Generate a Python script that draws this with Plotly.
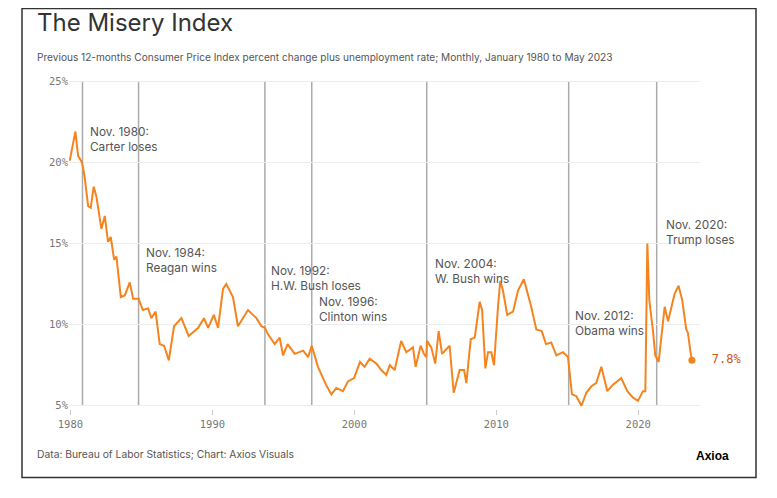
import plotly.graph_objects as go

years = [1979.95,1980.35,1980.54,1980.82,1981.0,1981.25,1981.43,1981.64,1981.83,1982.18,1982.42,1982.65,1982.84,1983.08,1983.24,1983.55,1983.83,1984.18,1984.42,1984.8,1985.1,1985.47,1985.7,1986.0,1986.29,1986.6,1986.93,1987.3,1987.82,1988.33,1989.0,1989.41,1989.7,1990.1,1990.4,1990.75,1990.98,1991.45,1991.8,1992.16,1992.51,1993.1,1993.45,1993.7,1993.92,1994.39,1994.74,1994.98,1995.3,1995.8,1996.4,1996.74,1997.0,1997.44,1998.0,1998.38,1998.73,1999.2,1999.55,1999.98,2000.4,2000.72,2001.08,2001.55,2001.9,2002.25,2002.5,2002.84,2003.3,2003.66,2004.13,2004.32,2004.67,2004.9,2005.07,2005.12,2005.42,2005.7,2005.94,2006.18,2006.41,2006.71,2007.0,2007.42,2007.73,2007.89,2008.2,2008.48,2008.83,2009.0,2009.23,2009.42,2009.65,2009.84,2010.12,2010.28,2010.47,2010.77,2011.18,2011.53,2011.94,2012.18,2012.46,2012.82,2013.2,2013.5,2013.87,2014.23,2014.7,2015.05,2015.33,2015.63,2016.0,2016.34,2016.7,2017.04,2017.4,2017.82,2018.22,2018.8,2019.23,2019.63,2019.98,2020.33,2020.5,2020.64,2020.78,2021.04,2021.2,2021.44,2021.86,2022.1,2022.32,2022.56,2022.84,2023.1,2023.38,2023.5,2023.68,2023.78]
values = [20.1,21.9,20.4,20.0,19.1,17.3,17.2,18.5,17.9,15.9,16.7,15.1,15.4,14.0,14.2,11.7,11.8,12.6,11.6,11.6,10.9,11.0,10.4,10.8,8.8,8.7,7.8,9.9,10.4,9.3,9.8,10.4,9.8,10.6,9.8,12.2,12.5,11.7,9.9,10.4,10.9,10.4,9.9,9.8,9.4,8.8,9.2,8.1,8.8,8.2,8.4,8.0,8.7,7.4,6.3,5.7,6.1,5.9,6.5,6.7,7.7,7.4,7.9,7.6,7.2,6.9,7.5,7.2,9.0,8.3,8.6,7.4,8.7,8.2,8.0,9.0,8.6,7.6,9.6,8.2,8.4,8.7,5.8,7.2,7.2,6.4,9.1,9.2,11.4,10.9,7.3,8.3,8.3,7.5,11.1,12.7,12.1,10.6,10.8,12.1,12.8,12.0,11.1,9.7,9.6,8.8,8.9,8.1,8.3,8.0,5.7,5.6,5.0,5.8,6.2,6.4,7.4,5.9,6.3,6.7,5.9,5.5,5.3,5.9,5.9,15.0,11.5,9.6,8.1,7.7,11.1,10.2,11.0,11.9,12.4,11.5,9.7,9.5,8.3,7.8]

event_x = [1980.85, 1984.8, 1993.7, 1997.0, 2005.1, 2015.1, 2021.3]
event_labels = ["Nov. 1980:<br>Carter loses", "Nov. 1984:<br>Reagan wins", "Nov. 1992:<br>H.W. Bush loses",
                "Nov. 1996:<br>Clinton wins", "Nov. 2004:<br>W. Bush wins", "Nov. 2012:<br>Obama wins",
                "Nov. 2020:<br>Trump loses"]
label_x = [1981.27, 1985.21, 1994.01, 1997.39, 2005.56, 2015.42, 2021.83]
label_y = [22.45, 14.98, 13.85, 11.95, 14.3, 11.09, 16.71]
y_ticks = [5, 10, 15, 20, 25]
x_ticks = [1980, 1990, 2000, 2010, 2020]

W, H = 769, 490
ml, mt = 61, 70
mr = W - 692
mb = H - 401

def px_x(p): return (p - 69) / 631
def px_y(p): return 1 - (p - 81) / 324

fig = go.Figure()
for ex in event_x:
    fig.add_shape(type="line", x0=ex, x1=ex, y0=5, y1=25, xref="x", yref="y",
                  line=dict(color="#ababab", width=1.5), layer="below")
fig.add_trace(go.Scatter(x=years, y=values, mode="lines",
                         line=dict(color="#f5841f", width=2), hoverinfo="skip"))
fig.add_trace(go.Scatter(x=[years[-1]], y=[values[-1]], mode="markers+text", cliponaxis=False,
                         marker=dict(color="#f5841f", size=7),
                         text=[f"  {values[-1]}%"], textposition="middle right",
                         textfont=dict(family="DejaVu Sans Mono", size=12, color="#c8561a")))
for lx, ly, t in zip(label_x, label_y, event_labels):
    fig.add_annotation(x=lx, y=ly, text=t, showarrow=False, xanchor="left", yanchor="top",
                       align="left", font=dict(family="Inter", size=11.8, color="#555"))

fig.add_shape(type="rect", xref="paper", yref="paper", x0=px_x(22), x1=px_x(756),
              y0=px_y(472), y1=px_y(13), line=dict(color="#333", width=1.5))
fig.add_annotation(xref="paper", yref="paper", x=px_x(35), y=px_y(27), text="The Misery Index",
                   showarrow=False, xanchor="left", yanchor="middle",
                   font=dict(family="Inter", size=24, color="#333"))
fig.add_annotation(xref="paper", yref="paper", x=px_x(35), y=px_y(60),
                   text="Previous 12-months Consumer Price Index percent change plus unemployment rate; Monthly, January 1980 to May 2023",
                   showarrow=False, xanchor="left", yanchor="middle",
                   font=dict(family="Inter", size=10.1, color="#555"))
fig.add_annotation(xref="paper", yref="paper", x=px_x(35), y=px_y(449),
                   text="Data: Bureau of Labor Statistics; Chart: Axios Visuals",
                   showarrow=False, xanchor="left", yanchor="middle",
                   font=dict(family="Inter", size=10.3, color="#555"))
fig.add_annotation(xref="paper", yref="paper", x=px_x(731), y=px_y(451), text="<b>Axioa</b>",
                   showarrow=False, xanchor="right", yanchor="middle",
                   font=dict(family="Liberation Sans", size=12, color="#000"))

fig.update_layout(
    width=W, height=H, margin=dict(l=ml, r=mr, t=mt, b=mb, autoexpand=False),
    paper_bgcolor="white", plot_bgcolor="white", showlegend=False,
    xaxis=dict(range=[1979.9, 2024.35], tickvals=x_ticks, ticktext=[str(v) for v in x_ticks],
               showgrid=False, zeroline=False, ticks="outside", ticklen=5, tickcolor="#ccc",
               tickfont=dict(family="DejaVu Sans Mono", size=10.5, color="#777")),
    yaxis=dict(range=[4.8, 25.2], tickvals=y_ticks, ticktext=[f"{v}%" for v in y_ticks],
               showgrid=True, gridcolor="#ececec", zeroline=False, ticks="",
               tickfont=dict(family="DejaVu Sans Mono", size=10.5, color="#777")),
)
fig.write_html("out.html")
